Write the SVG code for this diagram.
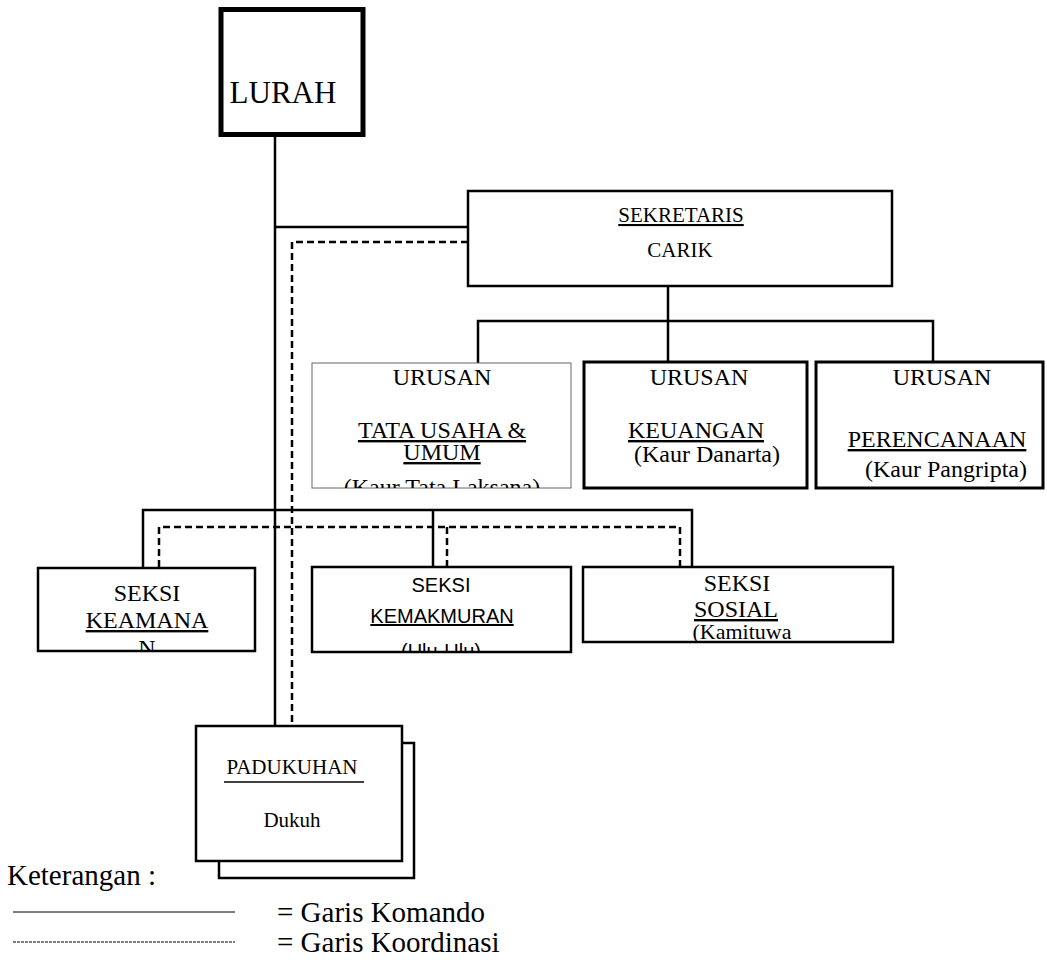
<svg xmlns="http://www.w3.org/2000/svg" width="1047" height="964" viewBox="0 0 1047 964">
<style>
.t{font-family:"Liberation Serif","Times New Roman",serif;fill:#000;text-anchor:middle}
.tl{font-family:"Liberation Serif","Times New Roman",serif;fill:#000;text-anchor:start}
.s{font-family:"Liberation Sans",Arial,sans-serif;fill:#000;text-anchor:middle}
.u{text-decoration:underline}
.box{fill:#fff;stroke:#000;stroke-width:2.5}
.ln{fill:none;stroke:#000;stroke-width:2.5}
.dl{fill:none;stroke:#000;stroke-width:2.5;stroke-dasharray:7 4}
</style>
<defs>
<clipPath id="cU1"><rect x="312" y="363" width="259" height="125"/></clipPath>
<clipPath id="cS1"><rect x="38" y="568" width="217" height="83"/></clipPath>
<clipPath id="cS2"><rect x="312" y="567" width="259" height="85"/></clipPath>
<clipPath id="cS3"><rect x="583" y="567" width="310" height="75"/></clipPath>
</defs>
<rect width="1047" height="964" fill="#fff"/>

<g id="connectors">
<path class="ln" d="M275 137V726"/>
<path class="ln" d="M275 227H468"/>
<path class="dl" d="M468 242H292V726"/>
<path class="ln" d="M668 286V321"/>
<path class="ln" d="M478 363V321H933V362"/>
<path class="ln" d="M668 321V362"/>
<path class="ln" d="M143 567V510H692V567"/>
<path class="ln" d="M433 510V567"/>
<path class="dl" d="M159 567V527H680V567"/>
<path class="dl" d="M447 527V567"/>
</g>

<g id="lurah">
<rect x="221" y="9.5" width="142" height="125" fill="#fff" stroke="#000" stroke-width="5"/>
<text class="t" x="283" y="103" font-size="31">LURAH</text>
</g>

<g id="sekretaris">
<rect class="box" x="468" y="191" width="424" height="95"/>
<text class="t u" x="681" y="222" font-size="21">SEKRETARIS</text>
<text class="t" x="680" y="257" font-size="21">CARIK</text>
</g>

<g id="urusan-tu">
<rect x="312" y="363" width="259" height="125" fill="#fff" stroke="#666" stroke-width="1"/>
<g clip-path="url(#cU1)">
<text class="t" x="442" y="385" font-size="24">URUSAN</text>
<text class="t u" x="442" y="438" font-size="24">TATA USAHA &amp;</text>
<text class="t u" x="442" y="460" font-size="24">UMUM</text>
<text class="t" x="442" y="495" font-size="24">(Kaur Tata Laksana)</text>
</g>
</g>

<g id="urusan-keuangan">
<rect x="584" y="362" width="223" height="126" fill="#fff" stroke="#000" stroke-width="3"/>
<text class="t" x="699" y="385" font-size="24">URUSAN</text>
<text class="t u" x="696" y="438" font-size="24">KEUANGAN</text>
<text class="t" x="707" y="462" font-size="24">(Kaur Danarta)</text>
</g>

<g id="urusan-perencanaan">
<rect x="816" y="362" width="227" height="126" fill="#fff" stroke="#000" stroke-width="3"/>
<text class="t" x="942" y="385" font-size="24">URUSAN</text>
<text class="t u" x="937" y="447" font-size="24">PERENCANAAN</text>
<text class="t" x="946" y="477" font-size="24">(Kaur Pangripta)</text>
</g>

<g id="seksi-keamanan">
<rect class="box" x="38" y="568" width="217" height="83"/>
<g clip-path="url(#cS1)">
<text class="t" x="147" y="601" font-size="24">SEKSI</text>
<text class="t u" x="147" y="628" font-size="24">KEAMANA</text>
<text class="t" x="147" y="656" font-size="24">N</text>
</g>
</g>

<g id="seksi-kemakmuran">
<rect class="box" x="312" y="567" width="259" height="85"/>
<g clip-path="url(#cS2)">
<text class="s" x="441" y="592" font-size="20">SEKSI</text>
<text class="s u" x="442" y="623" font-size="20">KEMAKMURAN</text>
<text class="s" x="441" y="658" font-size="20">(Ulu-Ulu)</text>
</g>
</g>

<g id="seksi-sosial">
<rect class="box" x="583" y="567" width="310" height="75"/>
<g clip-path="url(#cS3)">
<text class="t" x="737" y="591" font-size="24">SEKSI</text>
<text class="t u" x="736" y="617" font-size="24">SOSIAL</text>
<text class="t" x="742" y="639" font-size="22">(Kamituwa</text>
</g>
</g>

<g id="padukuhan">
<rect class="box" x="219" y="743" width="195" height="135" stroke-width="3"/>
<rect class="box" x="196" y="726" width="206" height="135" stroke-width="3"/>
<text class="t" x="292" y="774" font-size="21">PADUKUHAN</text>
<line x1="224" y1="782" x2="364" y2="782" stroke="#000" stroke-width="1.5"/>
<text class="t" x="292" y="827" font-size="21">Dukuh</text>
</g>

<g id="legend">
<text class="tl" x="7" y="885" font-size="29">Keterangan :</text>
<line x1="13" y1="912" x2="235" y2="912" stroke="#000" stroke-width="1"/>
<text class="tl" x="277" y="922" font-size="29">= Garis Komando</text>
<line x1="13" y1="942" x2="235" y2="942" stroke="#000" stroke-width="1" stroke-dasharray="3 1"/>
<text class="tl" x="277" y="952" font-size="29">= Garis Koordinasi</text>
</g>
</svg>
